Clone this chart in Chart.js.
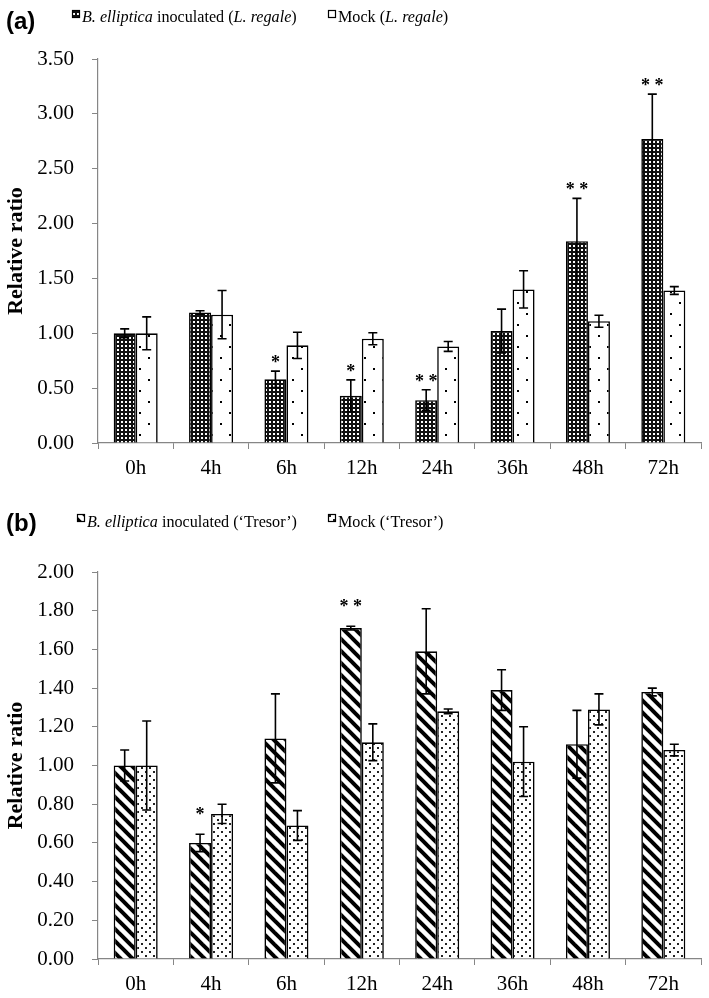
<!DOCTYPE html>
<html>
<head>
<meta charset="utf-8">
<script src="https://cdn.jsdelivr.net/npm/chart.js@4.4.1/dist/chart.umd.min.js"></script>
<style>
body { margin: 0; background: #fff; }
#wrap { position: relative; width: 709px; height: 998px; }
canvas { position: absolute; left: 0; }
</style>
</head>
<body>
<div id="wrap">
  <canvas id="chartA" width="709" height="490" style="top:0"></canvas>
  <canvas id="chartB" width="709" height="508" style="top:490px"></canvas>
</div>
<script>
const hours = ['0h', '4h', '6h', '12h', '24h', '36h', '48h', '72h'];

// (a) L. regale
const regaleInoc    = [1.00, 1.19, 0.58, 0.43, 0.39, 1.02, 1.84, 2.77];
const regaleInocErr = [0.04, 0.015, 0.075, 0.145, 0.095, 0.20, 0.39, 0.41];
const regaleMock    = [1.00, 1.17, 0.89, 0.95, 0.88, 1.40, 1.11, 1.39];
const regaleMockErr = [0.15, 0.22, 0.12, 0.055, 0.045, 0.17, 0.055, 0.035];
const regaleStars   = ['', '', '*', '*', '**', '', '**', '**'];

// (b) 'Tresor'
const tresorInoc    = [1.00, 0.60, 1.14, 1.71, 1.59, 1.39, 1.11, 1.38];
const tresorInocErr = [0.08, 0.045, 0.23, 0.01, 0.22, 0.105, 0.175, 0.02];
const tresorMock    = [1.00, 0.75, 0.69, 1.12, 1.28, 1.02, 1.29, 1.08];
const tresorMockErr = [0.23, 0.05, 0.077, 0.095, 0.012, 0.18, 0.08, 0.03];
const tresorStars   = ['', '*', '', '**', '', '', '', ''];

const SERIF = '"Liberation Serif", "Times New Roman", serif';
const AXIS_GREY = '#868686';

// fill patterns
function makePattern(w, h, draw) {
    const c = document.createElement('canvas');
    c.width = w; c.height = h;
    const g = c.getContext('2d');
    draw(g);
    return document.getElementById('chartA').getContext('2d').createPattern(c, 'repeat');
}
const patDarkDots = makePattern(4, 4, g => {
    g.fillStyle = '#111'; g.fillRect(0, 0, 4, 4);
    g.fillStyle = '#fff'; g.fillRect(1, 1, 2, 2);
});
const patSparseDots = makePattern(18, 22, g => {
    g.fillStyle = '#fff'; g.fillRect(0, 0, 18, 22);
    g.fillStyle = '#000'; g.fillRect(4, 5, 2, 2); g.fillRect(13, 16, 2, 2);
});
const patStripes = makePattern(12, 12, g => {
    g.fillStyle = '#fff'; g.fillRect(0, 0, 12, 12);
    g.strokeStyle = '#000'; g.lineWidth = 4;
    for (let k = -1; k <= 1; k++) {
        g.beginPath(); g.moveTo(k * 12 - 2, -2); g.lineTo(k * 12 + 14, 14); g.stroke();
    }
});
const patFineDots = makePattern(8, 8, g => {
    g.fillStyle = '#fff'; g.fillRect(0, 0, 8, 8);
    g.fillStyle = '#222'; g.fillRect(1, 1, 2, 2); g.fillRect(5, 5, 2, 2);
});

// error bars + significance stars
const errorBarPlugin = {
    id: 'errorBars',
    afterDatasetsDraw(chart) {
        const ctx = chart.ctx;
        const y = chart.scales.y;
        const starGap = chart.options.plugins.errorBars.starGap;
        chart.data.datasets.forEach((ds, i) => {
            chart.getDatasetMeta(i).data.forEach((bar, j) => {
                const v = ds.data[j], e = ds.errors[j];
                const yt = y.getPixelForValue(v + e);
                const yb = y.getPixelForValue(v - e);
                ctx.save();
                ctx.strokeStyle = '#000';
                ctx.lineWidth = 1.6;
                ctx.beginPath();
                ctx.moveTo(bar.x, yb); ctx.lineTo(bar.x, yt);
                ctx.moveTo(bar.x - 4.5, yt); ctx.lineTo(bar.x + 4.5, yt);
                ctx.moveTo(bar.x - 4.5, yb); ctx.lineTo(bar.x + 4.5, yb);
                ctx.stroke();
                if (ds.stars && ds.stars[j]) {
                    ctx.fillStyle = '#000';
                    ctx.font = 'bold 18px ' + SERIF;
                    ctx.textAlign = 'center';
                    ctx.textBaseline = 'alphabetic';
                    ctx.fillText(ds.stars[j].split('').join(' '), bar.x, yt - starGap);
                }
                ctx.restore();
            });
        });
    }
};

// panel letter + legend (mixed italic text)
const headerPlugin = {
    id: 'header',
    afterDraw(chart) {
        const o = chart.options.plugins.header;
        const ctx = chart.ctx;
        ctx.save();
        ctx.fillStyle = '#000';
        ctx.textBaseline = 'alphabetic';
        ctx.font = 'bold 24px "Liberation Sans Narrow", "Liberation Sans", Arial, sans-serif';
        ctx.fillText(o.panel, 6, o.panelBase);
        o.items.forEach(it => {
            ctx.fillStyle = it.pattern;
            ctx.fillRect(it.x, o.markerTop, 8, 8);
            ctx.strokeStyle = '#000';
            ctx.lineWidth = 1.2;
            ctx.strokeRect(it.x + 0.5, o.markerTop + 0.5, 7, 7);
            // legend text is a little condensed in the original
            ctx.save();
            ctx.translate(it.x + 10, o.textBase);
            ctx.scale(0.95, 1);
            let x = 0;
            ctx.fillStyle = '#000';
            it.segs.forEach(s => {
                ctx.font = (s[1] ? 'italic ' : '') + '17px ' + SERIF;
                ctx.fillText(s[0], x, 0);
                x += ctx.measureText(s[0]).width;
            });
            ctx.restore();
        });
        ctx.restore();
    }
};

function buildChart(id, inoc, inocErr, mock, mockErr, stars, patInoc, patMock, yMax, yStep, top, xHeight, header, starGap) {
    return new Chart(document.getElementById(id), {
        type: 'bar',
        data: {
            labels: hours,
            datasets: [{
                data: inoc,
                errors: inocErr,
                stars: stars,
                backgroundColor: patInoc,
                borderColor: '#000',
                borderWidth: 1.6,
                barPercentage: 1,
                categoryPercentage: 0.584
            }, {
                data: mock,
                errors: mockErr,
                backgroundColor: patMock,
                borderColor: '#000',
                borderWidth: 1.6,
                barPercentage: 1,
                categoryPercentage: 0.584
            }]
        },
        options: {
            responsive: false,
            animation: false,
            layout: { padding: { top: top, right: 8, left: 0, bottom: 0 } },
            plugins: {
                legend: { display: false },
                tooltip: { enabled: false },
                errorBars: { starGap: starGap },
                header: header
            },
            scales: {
                x: {
                    grid: { drawOnChartArea: false, drawTicks: true, tickLength: 6, color: AXIS_GREY, offset: true },
                    border: { color: AXIS_GREY, width: 1.2 },
                    ticks: { color: '#000', font: { family: SERIF, size: 21 }, padding: 7, maxRotation: 0 },
                    afterFit: s => { s.height = xHeight; }
                },
                y: {
                    min: 0,
                    max: yMax,
                    grid: { drawOnChartArea: false, drawTicks: true, tickLength: 6, color: AXIS_GREY },
                    border: { color: AXIS_GREY, width: 1.2 },
                    ticks: {
                        stepSize: yStep,
                        color: '#000',
                        font: { family: SERIF, size: 21 },
                        padding: 18,
                        callback: v => Number(v).toFixed(2)
                    },
                    title: {
                        display: true,
                        text: 'Relative ratio',
                        color: '#000',
                        font: { family: SERIF, size: 22, weight: 'bold' },
                        padding: { top: 3, bottom: 0 }
                    },
                    afterFit: s => { s.width = 98; }
                }
            }
        },
        plugins: [errorBarPlugin, headerPlugin]
    });
}

buildChart('chartA', regaleInoc, regaleInocErr, regaleMock, regaleMockErr, regaleStars,
    patDarkDots, patSparseDots, 3.5, 0.5, 59, 47, {
        panel: '(a)', panelBase: 29, markerTop: 10, textBase: 22,
        items: [
            { x: 72, pattern: patDarkDots, segs: [['B. elliptica', true], [' inoculated (', false], ['L. regale', true], [')', false]] },
            { x: 328, pattern: patSparseDots, segs: [['Mock (', false], ['L. regale', true], [')', false]] }
        ]
    }, 3);

buildChart('chartB', tresorInoc, tresorInocErr, tresorMock, tresorMockErr, tresorStars,
    patStripes, patFineDots, 2.0, 0.2, 82, 39, {
        panel: '(b)', panelBase: 41, markerTop: 24, textBase: 37,
        items: [
            { x: 77, pattern: patStripes, segs: [['B. elliptica', true], [' inoculated (\u2018Tresor\u2019)', false]] },
            { x: 328, pattern: patFineDots, segs: [['Mock (\u2018Tresor\u2019)', false]] }
        ]
    }, 14);
</script>
</body>
</html>
